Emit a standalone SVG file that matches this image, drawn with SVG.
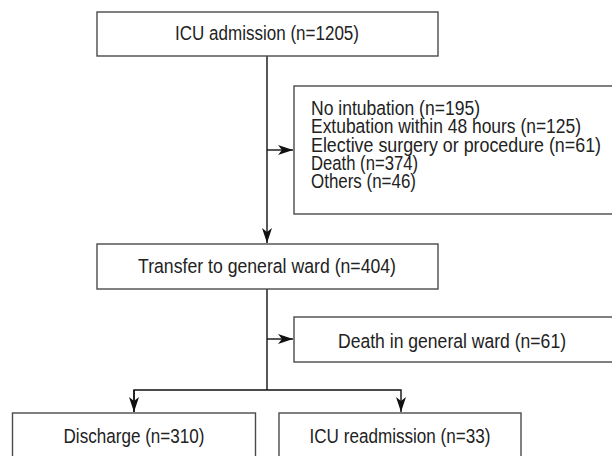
<svg xmlns="http://www.w3.org/2000/svg" width="612" height="456" viewBox="0 0 612 456">
<style>
.box{fill:#fff;stroke:#4a4a4a;stroke-width:1.4}
.t{font-family:"Liberation Sans",Arial,sans-serif;font-size:20.5px;fill:#222}
.c{text-anchor:middle}
.ln{fill:none;stroke:#111;stroke-width:1.4}
</style>
<defs>
<marker id="ah" markerUnits="userSpaceOnUse" markerWidth="16" markerHeight="12" viewBox="0 0 16 12" refX="15" refY="6" orient="auto">
<path d="M0,1 L15,6 L0,11 L4,6 z" fill="#111"/>
</marker>
</defs>
<rect width="612" height="456" fill="#fff"/>
<g id="connectors">
<path class="ln" d="M267,56 V243" marker-end="url(#ah)"/>
<path class="ln" d="M267,150 H293" marker-end="url(#ah)"/>
<path class="ln" d="M267,289 V390"/>
<path class="ln" d="M267,339 H293" marker-end="url(#ah)"/>
<path class="ln" d="M134,412 V390 H401 V412" marker-end="url(#ah)"/>
<path class="ln" d="M134,390 V412" marker-end="url(#ah)"/>
</g>
<g id="icu-admission">
<rect class="box" x="97" y="12" width="341" height="44"/>
<text class="t c" x="267" y="40" textLength="184" lengthAdjust="spacingAndGlyphs">ICU admission (n=1205)</text>
</g>
<g id="exclusions">
<rect class="box" x="294" y="86" width="322" height="128"/>
<text class="t" x="311" y="115" textLength="169" lengthAdjust="spacingAndGlyphs">No intubation (n=195)</text>
<text class="t" x="311" y="133.3" textLength="270" lengthAdjust="spacingAndGlyphs">Extubation within 48 hours (n=125)</text>
<text class="t" x="311" y="151.7" textLength="290" lengthAdjust="spacingAndGlyphs">Elective surgery or procedure (n=61)</text>
<text class="t" x="311" y="170" textLength="107" lengthAdjust="spacingAndGlyphs">Death (n=374)</text>
<text class="t" x="311" y="188.3" textLength="105" lengthAdjust="spacingAndGlyphs">Others (n=46)</text>
</g>
<g id="transfer">
<rect class="box" x="97" y="244" width="341" height="45"/>
<text class="t c" x="267" y="273" textLength="258" lengthAdjust="spacingAndGlyphs">Transfer to general ward (n=404)</text>
</g>
<g id="death-ward">
<rect class="box" x="294" y="317" width="322" height="45"/>
<text class="t c" x="452" y="348" textLength="228" lengthAdjust="spacingAndGlyphs">Death in general ward (n=61)</text>
</g>
<g id="discharge">
<rect class="box" x="12.5" y="413" width="243" height="60"/>
<text class="t c" x="134" y="443" textLength="141" lengthAdjust="spacingAndGlyphs">Discharge (n=310)</text>
</g>
<g id="icu-readmission">
<rect class="box" x="279" y="413" width="242" height="60"/>
<text class="t c" x="400" y="443" textLength="181" lengthAdjust="spacingAndGlyphs">ICU readmission (n=33)</text>
</g>
</svg>
